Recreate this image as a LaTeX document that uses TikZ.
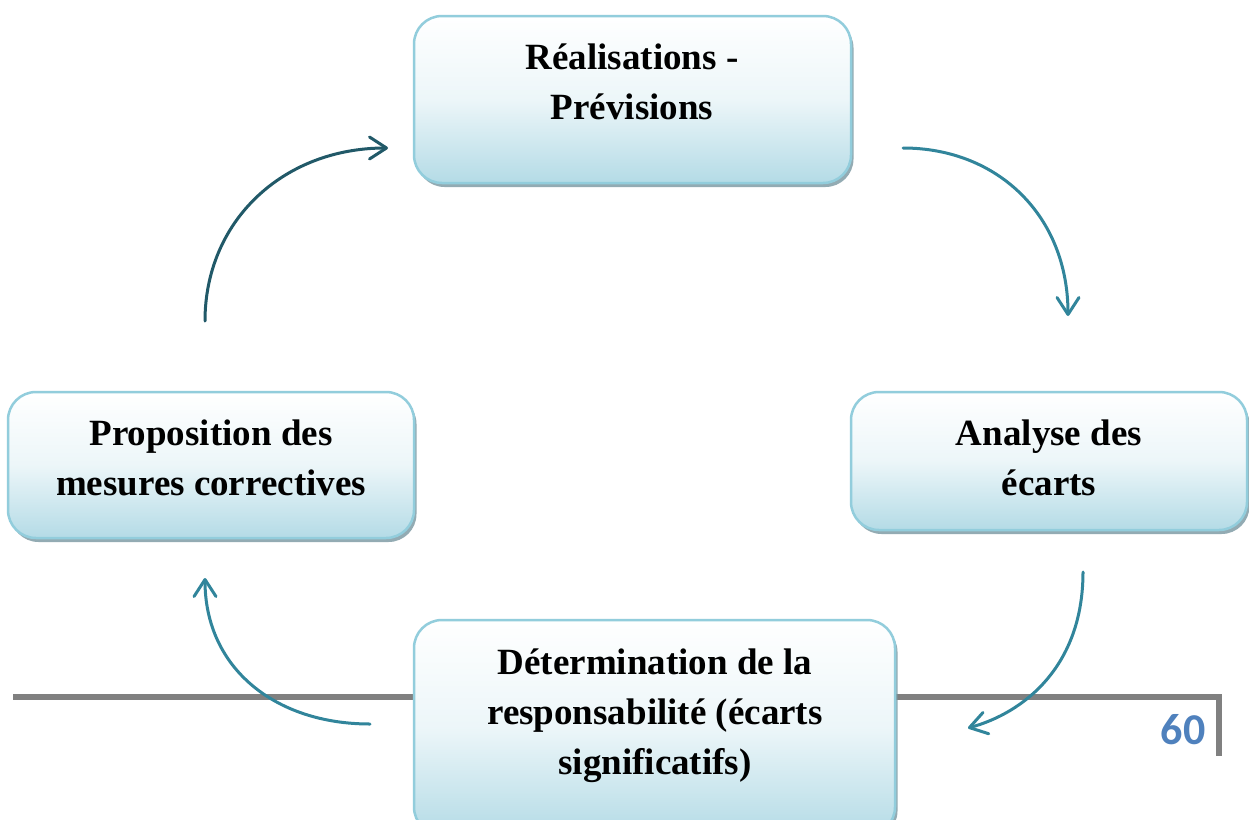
\documentclass[tikz,border=0pt]{standalone}
\usepackage{fontspec}
\setmainfont{Liberation Serif}
\newfontfamily\pagenumfont{Carlito}
\usetikzlibrary{arrows.meta,shadows}

\definecolor{boxedge}{RGB}{146,205,220}
\definecolor{boxfill}{RGB}{180,219,230}
\definecolor{boxshade}{RGB}{120,150,160}
\definecolor{cycledark}{RGB}{33,89,104}
\definecolor{cyclelight}{RGB}{49,133,155}
\definecolor{rulegray}{RGB}{128,128,128}
\definecolor{pageblue}{RGB}{79,129,189}

\tikzset{
  stagebox/.style={rectangle, rounded corners=28pt, line width=2.5pt, draw=boxedge,
    top color=white, bottom color=boxfill, middle color={boxfill!25},
    drop shadow={shadow xshift=2.5pt, shadow yshift=-4pt, fill=boxshade, opacity=0.8},
    inner sep=0pt},
  stagetext/.style={align=center, font=\fontsize{37}{50}\selectfont\bfseries, text=black, inner sep=0pt},
  cyclearrow/.style={line width=3pt, line cap=round,
    -{Straight Barb[length=17pt, width=22pt, line width=3pt, round]}},
  pagerule/.style={line width=6pt, draw=rulegray},
}

\begin{document}
\begin{tikzpicture}[x=1pt, y=-1pt]
\clip (0,0) rectangle (1249,819);
\fill[white] (0,0) rectangle (1249,819);

% footer rule and page number
\coordinate (ruleL) at (13,697);
\coordinate (ruleR) at (1222,697);
\coordinate (ruleD) at (1219,756);
\draw[pagerule] (ruleL) -- (ruleR);
\draw[pagerule] (1219,694) -- (ruleD);
\node[text=pageblue, font=\fontsize{44}{44}\selectfont\pagenumfont\bfseries, inner sep=0pt] (pagenum) at (1183,730) {60};

% the four stages
\node[stagebox, minimum width=437pt, minimum height=167pt] (real) at (632.5,99.5) {};
\node[stagebox, minimum width=396pt, minimum height=138pt] (ecarts) at (1049,461) {};
\node[stagebox, minimum width=406pt, minimum height=146pt] (mesures) at (211,465) {};
\node[stagebox, minimum width=481pt, minimum height=215pt] (resp) at (654.5,727.5) {};

\node[stagetext] (realtxt) at (632,82) {Réalisations -\\Prévisions};
\node[stagetext] (ecartstxt) at (1049,458) {Analyse des\\écarts};
\node[stagetext] (mesurestxt) at (211,458) {Proposition des\\mesures correctives};
\node[stagetext] (resptxt) at (655,716) {Détermination de la\\responsabilité (écarts\\significatifs)};

% cycle connectors
\coordinate (a1s) at (205,321);
\coordinate (a1e) at (388,148);
\coordinate (a2s) at (903,148);
\coordinate (a2e) at (1068,316);
\coordinate (a3s) at (1083,572);
\coordinate (a3e) at (968,728);
\coordinate (a4s) at (370,724);
\coordinate (a4e) at (205,578);

\draw[cyclearrow, draw=cycledark] (a1s) .. controls +(0,-100) and +(-105,0) .. (a1e);
\draw[cyclearrow, draw=cyclelight] (a2s) .. controls +(95,0) and +(0,-100) .. (a2e);
\draw[cyclearrow, draw=cyclelight] (a3s) .. controls +(0,95) and +(55,-15) .. (a3e);
\draw[cyclearrow, draw=cyclelight] (a4s) .. controls +(-95,0) and +(0,90) .. (a4e);
\end{tikzpicture}
\end{document}
